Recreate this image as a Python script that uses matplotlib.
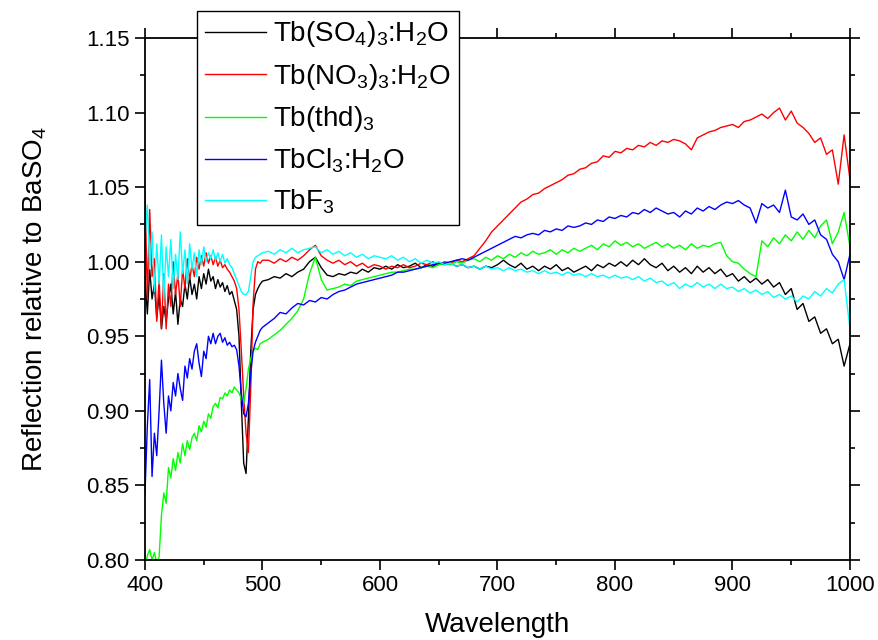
import numpy as np
import matplotlib
matplotlib.use('Agg')
import matplotlib.pyplot as plt
from matplotlib.ticker import MultipleLocator

plt.rcParams['font.family'] = ['Liberation Sans', 'DejaVu Sans']
plt.rcParams['mathtext.fontset'] = 'custom'
plt.rcParams['mathtext.rm'] = 'Liberation Sans'
plt.rcParams['mathtext.it'] = 'Liberation Sans'

# длины волн: 400-500 через 2 нм, дальше через 5 нм
wl_a = np.arange(400, 501, 2)
wl_b = np.arange(505, 1001, 5)
wavelength = np.concatenate([wl_a, wl_b])

labels = [r'Tb(SO$_4$)$_3$:H$_2$O', r'Tb(NO$_3$)$_3$:H$_2$O', r'Tb(thd)$_3$',
          r'TbCl$_3$:H$_2$O', r'TbF$_3$']
colors = ['black', '#ff0000', '#00ff00', '#0000ff', '#00ffff']

# Tb(SO4)3
black_a = [0.990, 0.965, 0.995, 0.975, 0.985, 0.962, 0.978, 0.955, 0.970, 0.960,
           0.975, 0.985, 0.965, 0.980, 0.958, 0.975, 0.970, 0.985, 0.975, 0.990,
           0.978, 0.985, 0.975, 0.990, 0.982, 0.992, 0.985, 0.995, 0.987, 0.990,
           0.982, 0.988, 0.983, 0.986, 0.980, 0.984, 0.978, 0.980, 0.974, 0.968,
           0.950, 0.905, 0.865, 0.858, 0.895, 0.940, 0.968, 0.978, 0.982, 0.985,
           0.987]
black_b = [0.988, 0.990, 0.989, 0.992, 0.990, 0.993, 0.995, 1.000, 1.003, 0.996,
           0.991, 0.990, 0.992, 0.991, 0.993, 0.992, 0.995, 0.993, 0.996, 0.995,
           0.997, 0.995, 0.998, 0.996, 0.997, 0.999, 0.996, 0.998, 0.997, 0.999,
           0.998, 0.999, 0.997, 0.998, 0.996, 0.997, 0.995, 0.997, 0.996, 0.998,
           1.001, 0.998, 0.996, 0.999, 0.995, 0.997, 0.994, 0.997, 0.995, 0.998,
           0.994, 0.996, 0.993, 0.995, 0.997, 0.994, 0.998, 0.996, 0.999, 0.997,
           1.000, 0.997, 1.001, 0.998, 1.002, 0.998, 0.996, 0.999, 0.994, 0.997,
           0.993, 0.996, 0.992, 0.997, 0.993, 0.996, 0.992, 0.995, 0.990, 0.992,
           0.987, 0.990, 0.986, 0.989, 0.985, 0.988, 0.983, 0.986, 0.978, 0.982,
           0.968, 0.972, 0.960, 0.963, 0.952, 0.955, 0.945, 0.948, 0.930, 0.945]

# Tb(NO3)3
red_a = [1.048, 0.975, 1.035, 0.990, 1.002, 0.960, 0.988, 0.955, 0.992, 0.955,
         0.985, 0.970, 1.000, 0.978, 0.992, 0.970, 0.995, 0.982, 1.002, 0.988,
         0.998, 0.990, 1.003, 0.995, 1.004, 0.997, 1.006, 0.999, 1.004, 0.998,
         1.003, 0.997, 1.001, 0.996, 0.998, 0.995, 0.993, 0.990, 0.987, 0.982,
         0.968, 0.940, 0.910, 0.885, 0.872, 0.915, 0.972, 0.995, 1.000, 0.999,
         1.001]
red_b = [1.001, 0.999, 1.002, 1.000, 1.003, 1.001, 1.004, 1.008, 1.011, 1.004,
         1.001, 0.999, 1.001, 0.998, 1.000, 0.997, 0.999, 0.996, 0.998, 0.997,
         0.995, 0.997, 0.996, 0.998, 0.996, 0.997, 0.999, 0.998, 1.000, 0.998,
         1.000, 0.999, 1.001, 1.000, 1.002, 1.004, 1.009, 1.014, 1.020, 1.024,
         1.028, 1.032, 1.036, 1.040, 1.042, 1.045, 1.046, 1.049, 1.051, 1.053,
         1.055, 1.058, 1.059, 1.062, 1.063, 1.066, 1.067, 1.071, 1.070, 1.074,
         1.073, 1.076, 1.075, 1.078, 1.077, 1.080, 1.078, 1.081, 1.080, 1.082,
         1.081, 1.079, 1.075, 1.083, 1.085, 1.087, 1.088, 1.090, 1.091, 1.092,
         1.090, 1.094, 1.095, 1.097, 1.099, 1.096, 1.100, 1.103, 1.095, 1.101,
         1.093, 1.090, 1.086, 1.080, 1.083, 1.072, 1.075, 1.052, 1.085, 1.055]

# Tb(thd)3
green_a = [0.795, 0.803, 0.807, 0.800, 0.805, 0.798, 0.802, 0.830, 0.845, 0.838,
           0.862, 0.855, 0.868, 0.860, 0.872, 0.865, 0.878, 0.870, 0.880, 0.874,
           0.882, 0.885, 0.880, 0.890, 0.886, 0.893, 0.889, 0.898, 0.895, 0.903,
           0.905, 0.902, 0.909, 0.908, 0.912, 0.910, 0.914, 0.912, 0.916, 0.914,
           0.912, 0.908, 0.905, 0.915, 0.928, 0.935, 0.940, 0.942, 0.941, 0.945,
           0.946]
green_b = [0.948, 0.951, 0.954, 0.958, 0.962, 0.967, 0.975, 0.992, 1.003, 0.988,
           0.981, 0.982, 0.983, 0.985, 0.984, 0.987, 0.988, 0.989, 0.990, 0.991,
           0.992, 0.993, 0.993, 0.994, 0.995, 0.995, 0.996, 0.997, 0.996, 0.998,
           0.999, 0.998, 1.000, 0.999, 1.001, 1.002, 1.000, 1.003, 1.001, 1.004,
           1.002, 1.005, 1.003, 1.006, 1.004, 1.007, 1.005, 1.006, 1.008, 1.005,
           1.008, 1.006, 1.009, 1.007, 1.009, 1.011, 1.008, 1.012, 1.010, 1.014,
           1.011, 1.013, 1.010, 1.012, 1.009, 1.011, 1.013, 1.010, 1.012, 1.009,
           1.011, 1.008, 1.012, 1.009, 1.011, 1.010, 1.012, 1.013, 1.004, 1.000,
           0.999, 0.995, 0.992, 0.990, 1.014, 1.010, 1.016, 1.012, 1.018, 1.014,
           1.020, 1.015, 1.021, 1.016, 1.024, 1.028, 1.012, 1.020, 1.033, 1.010]

# TbCl3
blue_a = [0.845, 0.890, 0.921, 0.856, 0.885, 0.870, 0.900, 0.934, 0.905, 0.885,
          0.910, 0.900, 0.919, 0.910, 0.925, 0.915, 0.907, 0.930, 0.922, 0.935,
          0.928, 0.940, 0.945, 0.932, 0.923, 0.940, 0.935, 0.950, 0.945, 0.952,
          0.945, 0.950, 0.952, 0.946, 0.949, 0.944, 0.946, 0.943, 0.944, 0.941,
          0.930, 0.912, 0.898, 0.896, 0.905, 0.925, 0.940, 0.946, 0.950, 0.954,
          0.956]
blue_b = [0.959, 0.962, 0.966, 0.965, 0.969, 0.972, 0.971, 0.974, 0.973, 0.976,
          0.975, 0.978, 0.980, 0.981, 0.983, 0.985, 0.986, 0.987, 0.988, 0.989,
          0.990, 0.991, 0.993, 0.993, 0.994, 0.995, 0.996, 0.997, 0.998, 0.999,
          0.999, 1.000, 1.001, 1.002, 1.001, 1.003, 1.005, 1.007, 1.009, 1.011,
          1.013, 1.015, 1.017, 1.016, 1.018, 1.019, 1.018, 1.021, 1.020, 1.022,
          1.021, 1.024, 1.023, 1.024, 1.026, 1.025, 1.028, 1.027, 1.030, 1.029,
          1.031, 1.030, 1.033, 1.032, 1.035, 1.033, 1.036, 1.034, 1.032, 1.033,
          1.030, 1.034, 1.032, 1.036, 1.034, 1.037, 1.035, 1.038, 1.040, 1.039,
          1.041, 1.038, 1.036, 1.026, 1.039, 1.036, 1.038, 1.033, 1.048, 1.030,
          1.028, 1.032, 1.025, 1.028, 1.018, 1.015, 1.005, 1.000, 0.988, 1.005]

# TbF3
cyan_a = [1.015, 1.038, 0.995, 1.020, 0.980, 1.012, 0.985, 1.018, 0.975, 1.010,
          0.990, 1.015, 0.982, 1.005, 0.988, 1.020, 0.992, 1.008, 0.985, 1.012,
          0.995, 1.006, 0.990, 1.008, 0.998, 1.010, 1.000, 1.006, 1.002, 1.008,
          1.001, 1.006, 1.000, 1.005, 0.999, 1.002, 0.998, 0.996, 0.992, 0.988,
          0.984, 0.980, 0.978, 0.978, 0.980, 0.990, 1.000, 1.003, 1.004, 1.005,
          1.006]
cyan_b = [1.007, 1.005, 1.008, 1.006, 1.009, 1.006, 1.008, 1.009, 1.010, 1.006,
          1.008, 1.005, 1.007, 1.004, 1.006, 1.003, 1.005, 1.002, 1.004, 1.003,
          1.002, 1.004, 1.001, 1.003, 1.000, 1.002, 0.999, 1.001, 0.999, 1.000,
          0.998, 0.999, 0.997, 0.998, 0.996, 0.997, 0.995, 0.997, 0.995, 0.996,
          0.994, 0.996, 0.994, 0.995, 0.993, 0.994, 0.992, 0.994, 0.992, 0.993,
          0.991, 0.993, 0.991, 0.992, 0.990, 0.992, 0.990, 0.991, 0.989, 0.991,
          0.989, 0.990, 0.988, 0.990, 0.987, 0.989, 0.986, 0.987, 0.984, 0.986,
          0.982, 0.985, 0.983, 0.986, 0.983, 0.985, 0.982, 0.985, 0.982, 0.983,
          0.980, 0.982, 0.979, 0.981, 0.978, 0.980, 0.976, 0.978, 0.975, 0.977,
          0.973, 0.977, 0.975, 0.980, 0.977, 0.982, 0.979, 0.985, 0.988, 0.955]

series = [black_a + black_b, red_a + red_b, green_a + green_b,
          blue_a + blue_b, cyan_a + cyan_b]

fig = plt.figure(figsize=(8.79, 6.40), dpi=100)
ax = fig.add_axes([145 / 879, 80 / 640, 705 / 879, 522 / 640])

for vals, lab, col in zip(series, labels, colors):
    ax.plot(wavelength, vals, color=col, lw=1.0, label=lab)

ax.set_xlim(400, 1000)
ax.set_ylim(0.80, 1.15)
ax.xaxis.set_major_locator(MultipleLocator(100))
ax.xaxis.set_minor_locator(MultipleLocator(50))
ax.yaxis.set_major_locator(MultipleLocator(0.05))
ax.yaxis.set_minor_locator(MultipleLocator(0.025))
ax.yaxis.set_major_formatter(matplotlib.ticker.FormatStrFormatter('%.2f'))

ax.tick_params(which='both', direction='out', top=True, right=True,
               labelsize=16, width=1.2, pad=4)
ax.tick_params(which='major', length=7)
ax.tick_params(which='minor', length=3.5)
for sp in ax.spines.values():
    sp.set_linewidth(1.3)

ax.set_xlabel('Wavelength', fontsize=20, labelpad=11)
ax.set_ylabel(r'Reflection relative to BaSO$_4$', fontsize=20, labelpad=27)

leg = ax.legend(loc='upper left', bbox_to_anchor=(197 / 879, 1 - 11 / 640),
                bbox_transform=fig.transFigure, borderaxespad=0,
                fontsize=20, handlelength=2.2, handletextpad=0.25,
                labelspacing=0.45, borderpad=0.3, fancybox=False,
                framealpha=1, edgecolor='black')
leg.get_frame().set_linewidth(1.0)

fig.savefig('out.png', dpi=100)
